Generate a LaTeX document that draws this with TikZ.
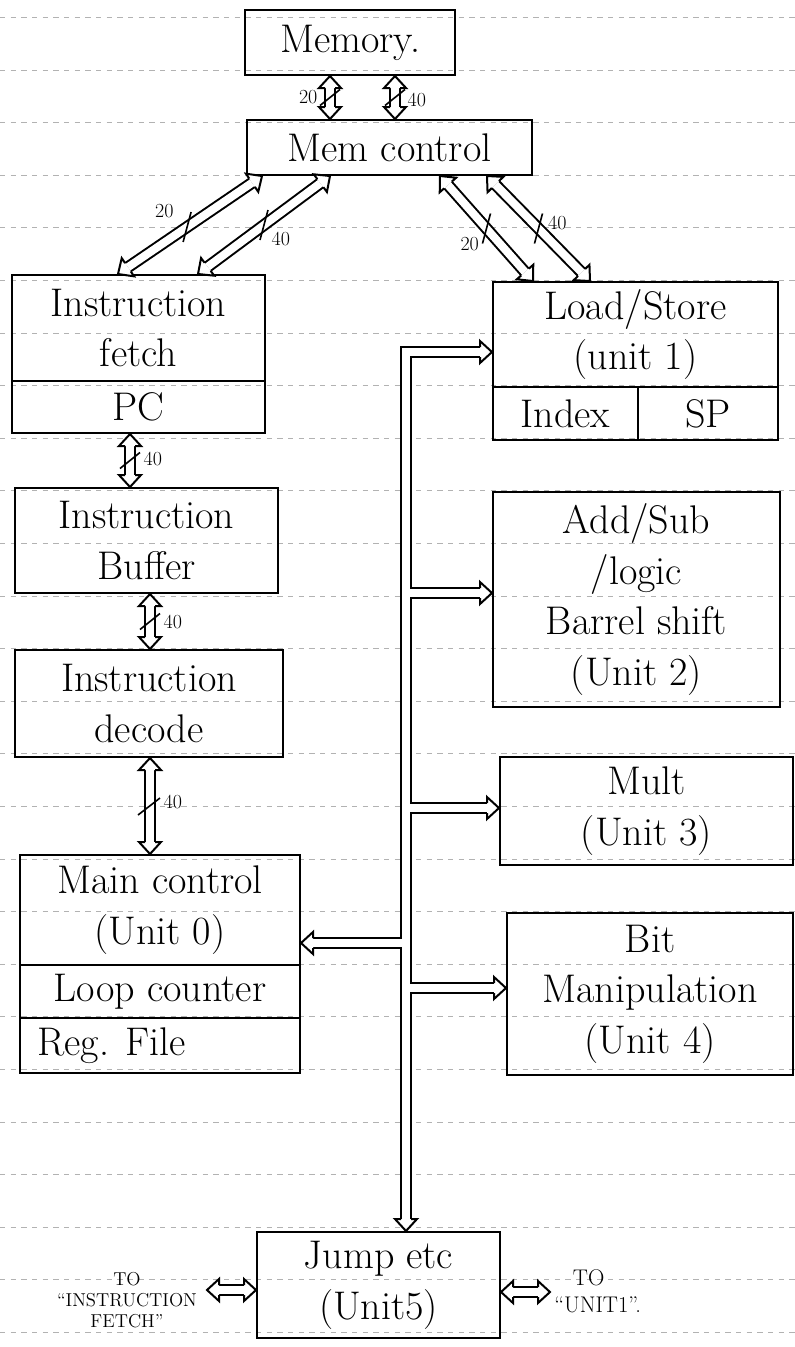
\documentclass[tikz,border=0pt]{standalone}
\usetikzlibrary{calc}
\begin{document}
\begin{tikzpicture}[x=0.75pt,y=-0.75pt,
  box/.style={draw, line width=1.5pt, inner sep=0pt, align=center, font=\fontsize{30}{38}\selectfont},
  rect/.style n args={4}{minimum width={(#3-#1)*0.75pt}, minimum height={(#4-#2)*0.75pt}, at={({(#1+#3)/2},{(#2+#4)/2})}},
  txt/.style={inner sep=0pt, align=center, font=\fontsize{30}{38}\selectfont},
  dbl/.style={draw, double=white, double distance=6pt, line width=1.5pt},
  dbltwo/.style={dbl, shorten <=9pt, shorten >=9pt},
  lbl/.style={inner sep=1pt, font=\fontsize{15}{17}\selectfont},
  note/.style={inner sep=0pt, align=center, font=\fontsize{14}{16}\selectfont},
  tk/.style={line width=1.2pt},
  rule/.style={black!30, line width=0.5pt, dash pattern=on 4pt off 4pt},
  hhead/.pic={\filldraw[fill=white, draw=black, line width=1.5pt, line join=miter] (-12,5) -- (-12,11) -- (0,0) -- (-12,-11) -- (-12,-5);},
  hback/.pic={\filldraw[fill=white, draw=black, line width=1.5pt, line join=miter] (12,5) -- (12,11) -- (0,0) -- (12,-11) -- (12,-5);}
]
\useasboundingbox (0,0) rectangle (795,1347);
% ruled paper
\foreach \k in {-1,...,24} { \draw[rule] (0,{70+52.6*\k}) -- (795,{70+52.6*\k}); }

% boxes
\node[box, rect={245}{10}{455}{75}] (mem) {Memory.};
\node[box, rect={247}{120}{532}{175}] (mctl) {Mem control};
\node[box, rect={12}{275}{265}{381}] (if) {Instruction\\fetch};
\node[box, rect={12}{381}{265}{433}] (pc) {PC};
\node[box, rect={15}{488}{278}{593}] (ib) {Instruction\\Buffer};
\node[box, rect={15}{650}{283}{757}] (id) {Instruction\\decode};
\node[box, rect={20}{855}{300}{965}] (mainc) {Main control\\(Unit 0)};
\node[box, rect={20}{965}{300}{1018}] (loop) {Loop counter};
\node[box, rect={20}{1018}{300}{1073}] (reg) {};
\node[txt, anchor=west] (regt) at ($(reg.west)+(18,0)$) {Reg. File};
\node[box, rect={493}{282}{778}{387}] (ls) {Load/Store\\(unit 1)};
\node[box, rect={493}{387}{638}{440}] (idx) {Index};
\node[box, rect={638}{387}{778}{440}] (sp) {SP};
\node[box, rect={493}{492}{780}{707}] (as) {Add/Sub\\/logic\\Barrel shift\\(Unit 2)};
\node[box, rect={500}{757}{793}{865}] (mu) {Mult\\(Unit 3)};
\node[box, rect={507}{913}{793}{1075}] (bm) {Bit\\Manipulation\\(Unit 4)};
\node[box, rect={257}{1232}{500}{1338}] (jmp) {Jump etc\\(Unit5)};

% bus
\coordinate (bt) at (406,352);
\coordinate (lsT) at (ls.west |- bt);
\coordinate (asT) at (as.west |- 0,593);
\coordinate (muT) at (mu.west |- 0,808);
\coordinate (bmT) at (bm.west |- 0,988);
\coordinate (mcT) at (mainc.east |- 0,943);
\coordinate (jT) at (jmp.north -| bt);
\draw[dbl] ($(lsT)+(-12,0)$) -- (bt) -- ($(jT)+(0,-12)$)
  (bt |- asT) -- ($(asT)+(-12,0)$)
  (bt |- muT) -- ($(muT)+(-12,0)$)
  (bt |- bmT) -- ($(bmT)+(-12,0)$)
  (bt |- mcT) -- ($(mcT)+(12,0)$);
\pic at (lsT) {hhead};
\pic at (asT) {hhead};
\pic at (muT) {hhead};
\pic at (bmT) {hhead};
\pic at (mcT) {hback};
\pic[rotate=-90] at (jT) {hhead};

% Memory <-> Mem control
\draw[dbltwo] (mem.south -| 330,0) -- (mctl.north -| 330,0);
\path[allow upside down] (mem.south -| 330,0) -- (mctl.north -| 330,0)
  pic[pos=0,sloped]{hback} pic[pos=1,sloped]{hhead} coordinate[pos=.5] (t1);
\draw[dbltwo] (mem.south -| 395,0) -- (mctl.north -| 395,0);
\path[allow upside down] (mem.south -| 395,0) -- (mctl.north -| 395,0)
  pic[pos=0,sloped]{hback} pic[pos=1,sloped]{hhead} coordinate[pos=.5] (t2);
\draw[tk] ($(t1)+(-10,8)$) -- ($(t1)+(10,-8)$);
\draw[tk] ($(t2)+(-10,8)$) -- ($(t2)+(10,-8)$);
\node[lbl, anchor=east] (l1) at ($(t1)+(-11,0)$) {20};
\node[lbl, anchor=west] (l2) at ($(t2)+(11,2)$) {40};

% Mem control <-> Instruction fetch / Load-Store
\draw[dbltwo] (mctl.south -| 262,0) -- (if.north -| 118,0);
\path[allow upside down] (mctl.south -| 262,0) -- (if.north -| 118,0)
  pic[pos=0,sloped]{hback} pic[pos=1,sloped]{hhead} coordinate[pos=.52] (t3);
\draw[dbltwo] (mctl.south -| 330,0) -- (if.north -| 198,0);
\path[allow upside down] (mctl.south -| 330,0) -- (if.north -| 198,0)
  pic[pos=0,sloped]{hback} pic[pos=1,sloped]{hhead} coordinate[pos=.5] (t4);
\draw[dbltwo] (mctl.south -| 440,0) -- (ls.north -| 533,0);
\path[allow upside down] (mctl.south -| 440,0) -- (ls.north -| 533,0)
  pic[pos=0,sloped]{hback} pic[pos=1,sloped]{hhead} coordinate[pos=.5] (t5);
\draw[dbltwo] (mctl.south -| 487,0) -- (ls.north -| 590,0);
\path[allow upside down] (mctl.south -| 487,0) -- (ls.north -| 590,0)
  pic[pos=0,sloped]{hback} pic[pos=1,sloped]{hhead} coordinate[pos=.5] (t6);
\draw[tk] ($(t3)+(-4,15)$) -- ($(t3)+(4,-15)$);
\draw[tk] ($(t4)+(-4,15)$) -- ($(t4)+(4,-15)$);
\draw[tk] ($(t5)+(-4,15)$) -- ($(t5)+(4,-15)$);
\draw[tk] ($(t6)+(-4,15)$) -- ($(t6)+(4,-15)$);
\node[lbl, anchor=east] (l3) at ($(t3)+(-12,-16)$) {20};
\node[lbl, anchor=west] (l4) at ($(t4)+(6,14)$) {40};
\node[lbl, anchor=east] (l5) at ($(t5)+(-6,16)$) {20};
\node[lbl, anchor=west] (l6) at ($(t6)+(8,-6)$) {40};

% left column
\draw[dbltwo] (pc.south -| 130,0) -- (ib.north -| 130,0);
\path[allow upside down] (pc.south -| 130,0) -- (ib.north -| 130,0)
  pic[pos=0,sloped]{hback} pic[pos=1,sloped]{hhead} coordinate[pos=.5] (t7);
\draw[dbltwo] (ib.south -| 150,0) -- (id.north -| 150,0);
\path[allow upside down] (ib.south -| 150,0) -- (id.north -| 150,0)
  pic[pos=0,sloped]{hback} pic[pos=1,sloped]{hhead} coordinate[pos=.5] (t8);
\draw[dbltwo] (id.south -| 150,0) -- (mainc.north -| 150,0);
\path[allow upside down] (id.south -| 150,0) -- (mainc.north -| 150,0)
  pic[pos=0,sloped]{hback} pic[pos=1,sloped]{hhead} coordinate[pos=.5] (t9);
\draw[tk] ($(t7)+(-10,8)$) -- ($(t7)+(10,-8)$);
\draw[tk] ($(t8)+(-10,8)$) -- ($(t8)+(10,-8)$);
\draw[tk] ($(t9)+(-12,9)$) -- ($(t9)+(10,-8)$);
\node[lbl, anchor=west] (l7) at ($(t7)+(12,-2)$) {40};
\node[lbl, anchor=west] (l8) at ($(t8)+(12,0)$) {40};
\node[lbl, anchor=west] (l9) at ($(t9)+(12,-4)$) {40};

% Jump etc side arrows
\coordinate (jl) at (207,1290);
\coordinate (jr) at (550,1292);
\draw[dbltwo] (jl) -- (jmp.west |- jl);
\path[allow upside down] (jl) -- (jmp.west |- jl) pic[pos=0,sloped]{hback} pic[pos=1,sloped]{hhead};
\draw[dbltwo] (jmp.east |- jr) -- (jr);
\path[allow upside down] (jmp.east |- jr) -- (jr) pic[pos=0,sloped]{hback} pic[pos=1,sloped]{hhead};
\node[note] (n1) at (127,1300) {TO\\``INSTRUCTION\\FETCH''};
\node[note, anchor=west, align=left, font=\fontsize{17}{20}\selectfont] (n2) at (554,1291) {\hspace{14pt}TO\\``UNIT1''.};
\end{tikzpicture}
\end{document}
